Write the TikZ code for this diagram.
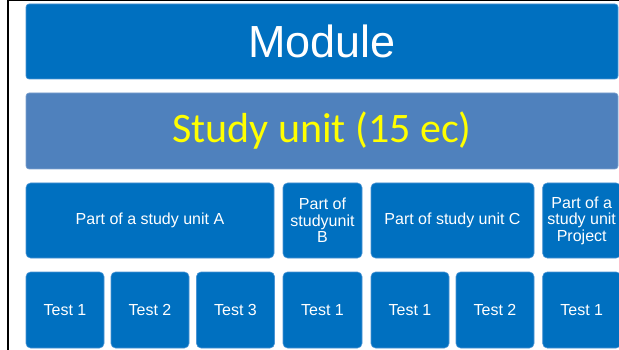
\documentclass[tikz,border=0pt]{standalone}
\usepackage{fontspec}
\setmainfont{Liberation Sans}
\newfontfamily\calib{Carlito}
\definecolor{modblue}{HTML}{0070C0}
\definecolor{unitblue}{HTML}{4F81BD}
\definecolor{edgeblue}{HTML}{4A94D4}
\definecolor{unitedge}{HTML}{7DA2D0}
\definecolor{txtyellow}{HTML}{FFFF00}
\begin{document}
\begin{tikzpicture}[x=1pt,y=-1pt,
  bigbox/.style={fill=modblue,draw=edgeblue,line width=0.6pt,rounded corners=3pt,inner sep=0pt,minimum height=75pt},
  partbox/.style={fill=modblue,draw=edgeblue,line width=0.6pt,rounded corners=4.5pt,inner sep=0pt,minimum height=75pt,text=white,align=center,font=\fontsize{16}{16.5}\selectfont},
  testbox/.style={partbox,minimum width=78pt,minimum height=76pt}]
\clip (0,0) rectangle (619,350);
\fill[white] (0,0) rectangle (619,350);
% frame lines
\draw[line width=1.5pt] (8,351) -- (8,0.7) -- (620,0.7);
% top rows
\node[bigbox,minimum width=592pt,text=white,font=\fontsize{45}{50}\selectfont] (module) at (322,41.5) {Module};
\node[bigbox,fill=unitblue,draw=unitedge,minimum width=592pt,minimum height=76pt,text=txtyellow,font=\calib\fontsize{42}{48}\selectfont] (unit) at (322,131) {Study unit (15 ec)};
% parts
\node[partbox,minimum width=248pt] (pa) at (150,220.5) {Part of a study unit A};
\node[partbox,minimum width=79pt] (pb) at (322.5,220.5) {Part of\\studyunit\\B};
\node[partbox,minimum width=163pt] (pc) at (452.5,220.5) {Part of study unit C};
\node[partbox,minimum width=78pt] (pp) at (581.7,220.5) {Part of a\\study unit\\Project};
% tests
\node[testbox] (ta1) at (65,310) {Test 1};
\node[testbox] (ta2) at (150,310) {Test 2};
\node[testbox] (ta3) at (235.5,310) {Test 3};
\node[testbox,minimum width=79pt] (tb1) at (322.5,310) {Test 1};
\node[testbox] (tc1) at (410,310) {Test 1};
\node[testbox] (tc2) at (495,310) {Test 2};
\node[testbox] (tp1) at (581.7,310) {Test 1};
\end{tikzpicture}
\end{document}
